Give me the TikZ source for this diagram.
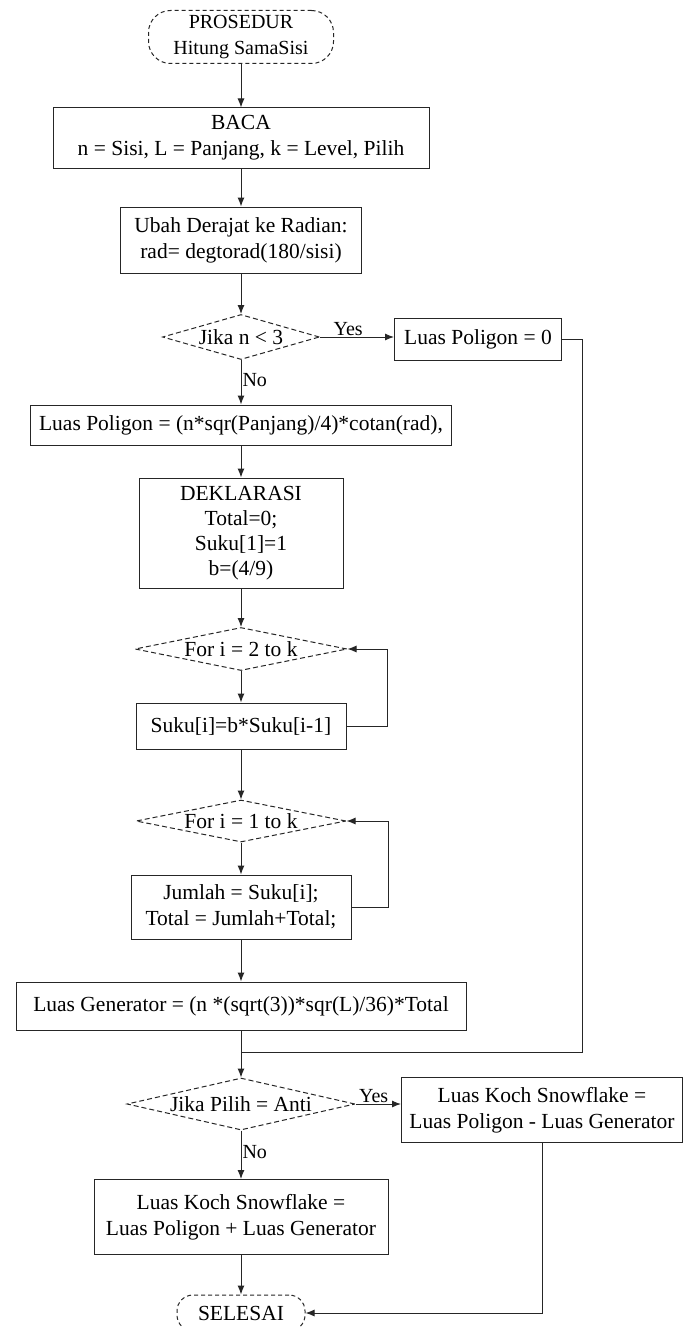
\documentclass[tikz,border=0pt]{standalone}
\usepackage{fontspec}
\setmainfont{Liberation Serif}
\usetikzlibrary{shapes.geometric,arrows.meta,calc}

\begin{document}
\begin{tikzpicture}[x=1pt,y=-1pt,
  font=\fontsize{21.5}{26}\selectfont,
  line width=1pt,
  >={Latex[length=9pt,width=7pt]},
  procbox/.style={draw=black!85, rectangle, align=center, inner sep=0pt},
  decide/.style={draw=black!85, diamond, dash pattern=on 5pt off 3pt, inner sep=0pt, align=center},
  term/.style={draw=black!85, rectangle, rounded corners=22pt, dash pattern=on 4pt off 3pt, align=center, inner sep=0pt},
  link/.style={draw=black!85},
  lbl/.style={inner sep=1pt, font=\fontsize{20}{22}\selectfont}
]
\path[use as bounding box, fill=white] (0,0) rectangle (685,1327);

% main column, all centred on x = 241
\node[term, minimum width=185, minimum height=53, font=\fontsize{20}{26}\selectfont] (start) at (241,37) {PROSEDUR\\Hitung SamaSisi};
\node[procbox, minimum width=376, minimum height=60] (baca) at (241,138) {BACA\\n = Sisi, L = Panjang, k = Level, Pilih};
\node[procbox, minimum width=241, minimum height=66] (ubah) at (241,240) {Ubah Derajat ke Radian:\\rad= degtorad(180/sisi)};
\node[decide, minimum width=157, minimum height=45, aspect=3.49] (d1) at (241,337) {Jika n < 3};
\node[procbox, minimum width=167, minimum height=42] (lp0) at (478,339) {Luas Poligon = 0};
\node[procbox, minimum width=421, minimum height=40] (lp) at (241,425) {Luas Poligon = (n*sqr(Panjang)/4)*cotan(rad),};
\node[procbox, minimum width=204, minimum height=110, font=\fontsize{21.5}{25}\selectfont] (dek) at (241,533) {DEKLARASI\\Total=0;\\Suku[1]=1\\b=(4/9)};
\node[decide, minimum width=212, minimum height=43, aspect=4.93] (f2) at (241,649) {For i = 2 to k};
\node[procbox, minimum width=210, minimum height=46] (sk) at (241,726) {Suku[i]=b*Suku[i-1]};
\node[decide, minimum width=210, minimum height=42, aspect=5] (f1) at (241,821) {For i = 1 to k};
\node[procbox, minimum width=220, minimum height=64] (jm) at (241,907) {Jumlah = Suku[i];\\Total = Jumlah+Total;};
\node[procbox, minimum width=450, minimum height=48] (lg) at (241,1006) {Luas Generator = (n *(sqrt(3))*sqr(L)/36)*Total};
\node[decide, minimum width=228, minimum height=52, aspect=4.38] (d2) at (241,1104) {Jika Pilih = Anti};
\node[procbox, minimum width=281, minimum height=65] (rk) at (542,1110) {Luas Koch Snowflake =\\Luas Poligon - Luas Generator};
\node[procbox, minimum width=294, minimum height=75] (bk) at (241,1217) {Luas Koch Snowflake =\\Luas Poligon + Luas Generator};
\node[term, minimum width=128, minimum height=36, rounded corners=16pt] (stop) at (241,1313) {SELESAI};

\coordinate (join) at (241,1052);

% connectors
\draw[link,->] (start) -- (baca);
\draw[link,->] (baca) -- (ubah);
\draw[link,->] (ubah) -- (d1);
\draw[link,->] (d1.east) -- node[lbl, above, pos=0.38] {Yes} (d1.east -| lp0.west);
\draw[link,->] (d1) -- node[lbl, right, pos=0.45] {No} (lp);
\draw[link] (lp0.east) -| (join -| 582,0) -- (join);
\draw[link,->] (lp) -- (dek);
\draw[link,->] (dek) -- (f2);
\draw[link,->] (f2) -- (sk);
\draw[link,->] (sk.east) -- ++(41,0) |- (f2.east);
\draw[link,->] (sk) -- (f1);
\draw[link,->] (f1) -- (jm);
\draw[link,->] (jm.east) -- ++(37,0) |- (f1.east);
\draw[link,->] (jm) -- (lg);
\draw[link,->] (lg) -- (d2);
\draw[link,->] (d2.east) -- node[lbl, above, pos=0.4] {Yes} (d2.east -| rk.west);
\draw[link,->] (d2) -- node[lbl, right, pos=0.45] {No} (bk);
\draw[link,->] (bk) -- (stop);
\draw[link,->] (rk.south) |- (stop.east);
\end{tikzpicture}
\end{document}
